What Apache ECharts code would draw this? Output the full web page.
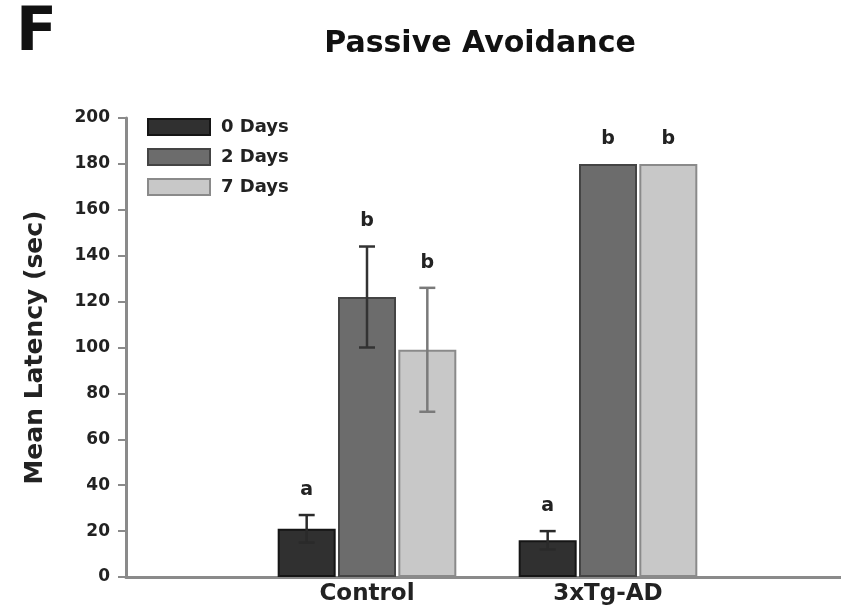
<!DOCTYPE html>
<html>
<head>
<meta charset="utf-8">
<script src="https://cdn.jsdelivr.net/npm/echarts@6/dist/echarts.min.js"></script>
<style>html,body{margin:0;padding:0;background:#fff}#c{width:841px;height:616px}</style>
</head>
<body>
<div id="c"></div>
<script>
// ---- data ----
const categories = ['', 'Control', '3xTg-AD', ''];
const seriesNames = ['0 Days', '2 Days', '7 Days'];
const days0 = [null, 21, 16, null];
const days2 = [null, 122, 180, null];
const days7 = [null, 99, 180, null];
const err0 = [null, 6, 4, null];
const err2 = [null, 22, 0, null];
const err7 = [null, 27, 0, null];
const letters0 = ['', 'a', 'a', ''];
const letters2 = ['', 'b', 'b', ''];
const letters7 = ['', 'b', 'b', ''];
const yTicks = [0, 20, 40, 60, 80, 100, 120, 140, 160, 180, 200];
const titleText = 'Passive Avoidance';
const panelLetter = 'F';
const yAxisName = 'Mean Latency (sec)';

// ---- style ----
const FONT = '"DejaVu Sans", "Liberation Sans", sans-serif';
const BAR_W = 58;
const BAR_GAP = 0.04;
const fills = ['#303030', '#6c6c6c', '#c8c8c8'];
const borders = ['#151515', '#444444', '#8a8a8a'];
const errColors = ['#2a2a2a', '#333333', '#7a7a7a'];

const values = [days0, days2, days7];
const errs = [err0, err2, err7];
const letters = [letters0, letters2, letters7];

const chart = echarts.init(document.getElementById('c'), null, {renderer: 'canvas'});

function makeErrSeries(si) {
  const data = [];
  values[si].forEach((v, i) => { if (v != null) data.push([i, v, errs[si][i], i]); });
  return {
    type: 'custom',
    z: 5,
    silent: true,
    encode: {x: 0, y: 1},
    data: data,
    renderItem: function (params, api) {
      const ci = api.value(0), mean = api.value(1), e = api.value(2), idx = api.value(3);
      const base = api.coord([ci, mean]);
      const off = (si - 1) * BAR_W * (1 + BAR_GAP);
      const cx = base[0] + off;
      const top = api.coord([ci, mean + e])[1];
      const bot = api.coord([ci, mean - e])[1];
      const children = [];
      const col = errColors[si];
      if (e > 0) {
        const lw = 2.5, cap = 8;
        children.push({type: 'line', shape: {x1: cx, y1: top, x2: cx, y2: bot}, style: {stroke: col, lineWidth: lw}});
        children.push({type: 'line', shape: {x1: cx - cap, y1: top, x2: cx + cap, y2: top}, style: {stroke: col, lineWidth: lw}});
        children.push({type: 'line', shape: {x1: cx - cap, y1: bot, x2: cx + cap, y2: bot}, style: {stroke: col, lineWidth: lw}});
      }
      children.push({type: 'text', style: {text: letters[si][idx], x: cx, y: top - 25, align: 'center', verticalAlign: 'middle', font: 'bold 19px ' + FONT, fill: '#222'}});
      return {type: 'group', children: children};
    }
  };
}

const barSeries = seriesNames.map((name, si) => ({
  name: name,
  type: 'bar',
  data: values[si],
  barWidth: BAR_W,
  barGap: (BAR_GAP * 100) + '%',
  itemStyle: {color: fills[si], borderColor: borders[si], borderWidth: 2},
  z: 2
}));

const option = {
  animation: false,
  backgroundColor: '#ffffff',
  grid: {left: 126, right: -8, top: 118, bottom: 39, containLabel: false, outerBoundsMode: 'none'},
  legend: {
    orient: 'vertical', left: 142, top: 113,
    itemWidth: 62, itemHeight: 16, itemGap: 12,
    icon: 'rect',
    data: seriesNames,
    textStyle: {fontFamily: FONT, fontWeight: 'bold', fontSize: 18, color: '#222', padding: [0, 0, 0, 6]}
  },
  xAxis: {
    type: 'category', data: categories, boundaryGap: false,
    axisLine: {lineStyle: {color: '#8a8a8a', width: 3}},
    axisTick: {show: false},
    axisLabel: {fontFamily: FONT, fontWeight: 'bold', fontSize: 23, color: '#222', margin: 6, interval: 0}
  },
  yAxis: {
    type: 'value', min: yTicks[0], max: yTicks[yTicks.length - 1], interval: yTicks[1] - yTicks[0],
    name: yAxisName, nameLocation: 'middle', nameGap: 78, nameRotate: 90,
    nameTextStyle: {fontFamily: FONT, fontWeight: 'bold', fontSize: 25, color: '#222'},
    axisLine: {show: true, lineStyle: {color: '#8a8a8a', width: 3}},
    axisTick: {show: true, length: 8, lineStyle: {color: '#8a8a8a', width: 2}},
    axisLabel: {fontFamily: FONT, fontWeight: 'bold', fontSize: 17, color: '#222', margin: 16},
    splitLine: {show: false}
  },
  graphic: [
    {type: 'text', left: 16, top: 4, style: {text: panelLetter, font: 'bold 60px ' + FONT, fill: '#111'}},
    {type: 'text', x: 480, y: 44, style: {text: titleText, font: 'bold 30px ' + FONT, fill: '#111', align: 'center', verticalAlign: 'middle'}}
  ],
  series: barSeries.concat([makeErrSeries(0), makeErrSeries(1), makeErrSeries(2)])
};
chart.setOption(option);
</script>
</body>
</html>
